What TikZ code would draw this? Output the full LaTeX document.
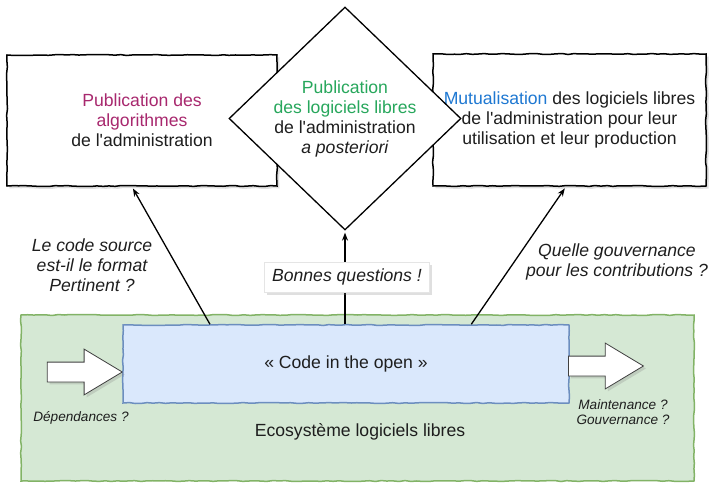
\documentclass[tikz,border=0pt]{standalone}
\usepackage{fontspec}
\setmainfont{Liberation Sans}[Ligatures=TeXOff]
\usetikzlibrary{arrows.meta,calc,positioning,shapes.geometric,shapes.arrows,shadows,decorations.pathmorphing}

\definecolor{violetpub}{HTML}{A8286E}
\definecolor{vertpub}{HTML}{27A75C}
\definecolor{bleumut}{HTML}{1E78D2}
\definecolor{vertfond}{HTML}{D5E8D4}
\definecolor{vertbord}{HTML}{82B366}
\definecolor{bleufond}{HTML}{DAE8FC}
\definecolor{bleubord}{HTML}{6C8EBF}
\definecolor{texte}{HTML}{1E1E1E}
\newcommand\grand{\fontsize{17.6}{20}\selectfont}
\newcommand\petit{\fontsize{13.6}{15.5}\selectfont}

\begin{document}
\begin{tikzpicture}[x=1pt,y=-1pt,>={Stealth[length=8pt,width=6pt]},
  font=\grand,text=texte,
  croquis/.style={decorate,decoration={random steps,segment length=6pt,amplitude=0.5pt}},
  ombre/.style={drop shadow={opacity=0.25,shadow xshift=2.5pt,shadow yshift=-2.5pt}},
  boite/.style={draw=black,line width=1.5pt,fill=white,croquis,ombre,align=center},
  losange/.style={diamond,draw=black,line width=1.3pt,fill=white,inner sep=0pt,
    minimum width=232pt,minimum height=223pt,align=center},
  grossefleche/.style={single arrow,draw=black!75,line width=0.8pt,fill=white,ombre,
    inner xsep=0pt,inner ysep=9.5pt,single arrow head extend=13pt,
    single arrow tip angle=62,minimum height=75pt},
  remarque/.style={align=center,font=\grand\itshape},
  lien/.style={->,line width=1.3pt,shorten >=2pt}]
  \useasboundingbox (0,0) rectangle (712,484);
  \pgfmathsetseed{11}
  % ecosysteme
  \node[draw=vertbord,fill=vertfond,line width=1.5pt,croquis,inner sep=0pt,
    minimum width=673pt,minimum height=166pt] (eco) at (357.5,398) {};
  \node (ecotxt) at (360,432) {Ecosystème logiciels libres};
  \node[draw=bleubord,fill=bleufond,line width=1.5pt,croquis,inner sep=0pt,
    minimum width=446pt,minimum height=78pt] (code) at (346,364) {« Code in the open »};
  % entree et sortie
  \node[grossefleche,anchor=tip] (dep) at (123,372) {};
  \node[grossefleche,anchor=tail] (maint) at (568,366) {};
  \node[font=\petit\itshape] (deptxt) at (81,418) {Dépendances ?};
  \node[align=center,font=\petit\itshape] (mainttxt) at (623,412) {Maintenance ?\\Gouvernance ?};
  % les trois publications
  \node[boite,minimum width=270pt,minimum height=131pt] (algo) at (142,120.5)
    {\textcolor{violetpub}{Publication des}\\\textcolor{violetpub}{algorithmes}\\de l'administration};
  \node[boite,minimum width=273pt,minimum height=132pt] (mutu) at (569.5,120)
    {\textcolor{bleumut}{Mutualisation} des logiciels libres\\de l'administration pour leur\\utilisation et leur production};
  \node[losange] (posteriori) at (345,118.5)
    {\textcolor{vertpub}{Publication}\\\textcolor{vertpub}{des logiciels libres}\\de l'administration\\\textit{a posteriori}};
  % liens
  \draw[lien] ($(code.north west)!0.196!(code.north east)$) -- ($(algo.south west)!0.463!(algo.south east)$);
  \draw[lien] (code.north -| posteriori.south) -- (posteriori.south);
  \draw[lien] ($(code.north west)!0.78!(code.north east)$) -- ($(mutu.south west)!0.487!(mutu.south east)$);
  \node[fill=white,draw=black!10,ombre,minimum width=165pt,minimum height=30pt,font=\grand\itshape] (bonnes) at (347,277) {Bonnes questions !};
  \node[remarque] (format) at (92,265) {Le code source\\est-il le format\\Pertinent ?};
  \node[remarque] (gouv) at (617,262) {Quelle gouvernance\\pour les contributions ?};
\end{tikzpicture}
\end{document}
